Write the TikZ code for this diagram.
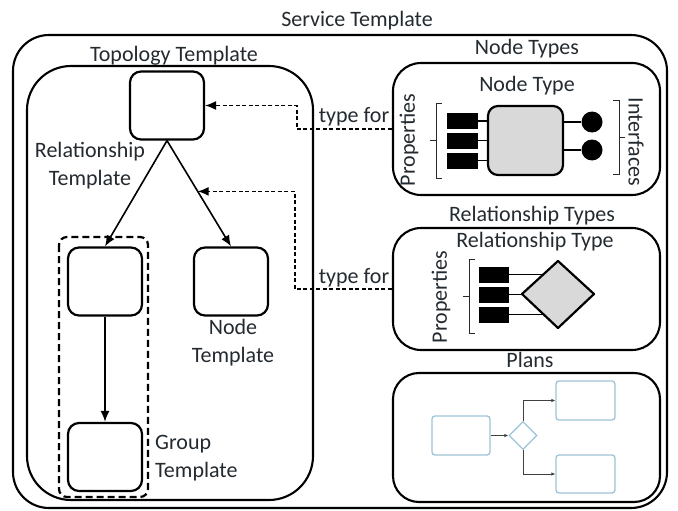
\documentclass[tikz,border=0pt]{standalone}
\usepackage{fontspec}
\setmainfont{Carlito}
\usetikzlibrary{arrows.meta,calc,shapes.geometric}
\definecolor{txt}{HTML}{232A30}
\definecolor{planblue}{HTML}{9DC3D6}
\definecolor{graybox}{HTML}{D9D9D9}
\begin{document}
\begin{tikzpicture}[x=1pt,y=-1pt,
  lbl/.style={font=\fontsize{22}{28}\selectfont, text=txt, inner sep=0pt},
  container/.style={draw, line width=2.1pt},
  tbox/.style={draw, line width=2.2pt, rounded corners=11pt, minimum width=74pt, minimum height=68pt, inner sep=0pt},
  relarrow/.style={line width=1.6pt, -{Latex[length=11pt,width=9pt]}},
  typefor/.style={line width=1.3pt, dash pattern=on 4pt off 2.5pt, -{Latex[length=11pt,width=9pt]}},
  prop/.style={fill=black, draw=black, minimum width=30pt, minimum height=15pt, inner sep=0pt},
  brk/.style={line width=0.9pt, draw=txt},
  pbox/.style={draw=planblue, line width=1.3pt, rounded corners=3pt, minimum width=59pt, minimum height=39pt, inner sep=0pt},
  parrow/.style={draw=black!75, line width=0.8pt, -{Latex[length=4pt,width=3.5pt]}}]
\path[use as bounding box] (0,0) rectangle (678,511);

% containers
\node[container, rounded corners=36pt, minimum width=654pt, minimum height=473pt] (svc) at (340,271.5) {};
\node[lbl, anchor=base] (svct) at (357,27) {Service Template};
\node[container, rounded corners=44pt, minimum width=286pt, minimum height=434pt] (topo) at (170,283) {};
\node[lbl, anchor=base] (topot) at (174,62) {Topology Template};

% templates
\node[tbox] (top) at (167,105.5) {};
\node[tbox] (lb) at (105,281.5) {};
\node[tbox] (nb) at (231,281.5) {};
\node[tbox] (gb) at (105,457) {};
\draw[line width=2.2pt, dash pattern=on 7pt off 4pt, rounded corners=8pt] (59,237) rectangle (148,497);

\draw[relarrow] (top.south) -- (lb.north);
\draw[relarrow] (top.south) -- (nb.north);
\draw[relarrow] (lb.south) -- (gb.north);

\node[lbl, align=center, anchor=base] (relt) at (90,185) {Relationship\\Template};
\node[lbl, align=center, anchor=base] (nodet) at (233,362) {Node\\Template};
\node[lbl, align=left, anchor=base west] (grpt) at (155,477) {Group\\Template};

% Node types
\node[container, rounded corners=28pt, minimum width=267pt, minimum height=132pt] (nts) at (526.5,129) {};
\node[lbl, anchor=base] (ntst) at (527,55) {Node Types};
\node[lbl, anchor=base] (ntt) at (527,92) {Node Type};
\node[lbl, rotate=90] (ntprop) at (409,140) {Properties};
\node[lbl, rotate=-90] (ntif) at (636,142) {Interfaces};
\draw[brk] (442,103) -- (436,103) -- (436,178) -- (442,178) (436,140) -- (430,140);
\draw[brk] (613,100) -- (619,100) -- (619,174) -- (613,174) (619,137) -- (625,137);
\node[draw, fill=graybox, line width=2.2pt, rounded corners=10pt, minimum width=75pt, minimum height=69pt] (ntc) at (525.5,140.5) {};
\node[prop] (np1) at (462,121) {};
\node[prop] (np2) at (462,140.5) {};
\node[prop] (np3) at (462,160.5) {};
\draw[line width=1.4pt] (np1.east) -- (np1.east -| ntc.west) (np2.east) -- (ntc.west) (np3.east) -- (np3.east -| ntc.west);
\node[circle, fill=black, minimum size=21pt, inner sep=0pt] (if1) at (592,122) {};
\node[circle, fill=black, minimum size=21pt, inner sep=0pt] (if2) at (592,150) {};
\draw[line width=1.4pt] (if1.west -| ntc.east) -- (if1.west) (if2.west -| ntc.east) -- (if2.west);

% Relationship types
\node[container, rounded corners=28pt, minimum width=267pt, minimum height=122pt] (rts) at (526.5,289) {};
\node[lbl, anchor=base] (rtst) at (532,221) {Relationship Types};
\node[lbl, anchor=base] (rtt) at (535,247) {Relationship Type};
\node[lbl, rotate=90] (rtprop) at (441,297) {Properties};
\draw[brk] (475,259) -- (469,259) -- (469,333) -- (475,333) (469,296) -- (463,296);
\node[prop, minimum width=29pt] (rp1) at (493.5,274.5) {};
\node[prop, minimum width=29pt] (rp2) at (493.5,294.5) {};
\node[prop, minimum width=29pt] (rp3) at (493.5,314.5) {};
\draw[line width=1.4pt] (rp1.east) -- ++(40,0) (rp2.east) -- ++(16,0) (rp3.east) -- ++(40,0);
\draw[line width=2.2pt, fill=graybox, line join=round] (522,294) -- (558,261) -- (594,294) -- (558,328) -- cycle;

% Plans
\node[container, rounded corners=26pt, minimum width=267pt, minimum height=129pt] (pls) at (526.5,437.5) {};
\node[lbl, anchor=base] (plst) at (530,367) {Plans};
\node[pbox, minimum width=58pt] (p1) at (461,435.5) {};
\node[draw=planblue, line width=1.3pt, diamond, minimum width=28pt, minimum height=28pt, inner sep=0pt] (pd) at (523,435.5) {};
\node[pbox] (p2) at (585.5,400.5) {};
\node[pbox, minimum height=38pt] (p3) at (585.5,474) {};
\draw[parrow] (p1.east) -- (pd.west);
\draw[parrow] (pd.north) |- (p2.west);
\draw[parrow] (pd.south) |- (p3.west);

% type-for connectors
\coordinate (rm) at ($(top.south)!0.48!(nb.north)$);
\draw[typefor] (nts.west) -- ++(-95,0) |- (top.east);
\draw[typefor] (rts.west) -- ++(-97,0) |- (rm);
\node[lbl, anchor=base] (tf1) at (354,123) {type for};
\node[lbl, anchor=base] (tf2) at (354,283) {type for};
\end{tikzpicture}
\end{document}
